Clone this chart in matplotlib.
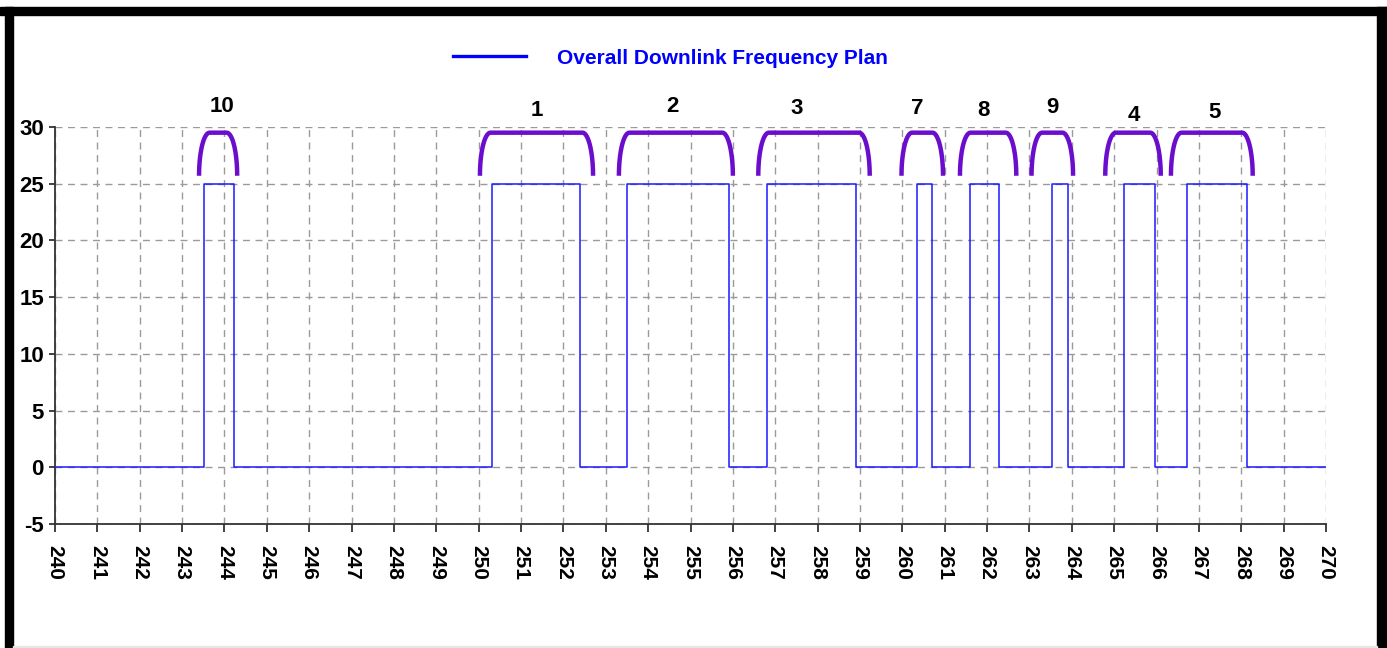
import numpy as np
import matplotlib
matplotlib.use('Agg')
import matplotlib.pyplot as plt
from matplotlib.lines import Line2D
from matplotlib.patches import Rectangle

plt.rcParams['font.family'] = ['Liberation Sans', 'DejaVu Sans']
plt.rcParams['font.weight'] = 'bold'

# channel numbers, occupied band edges (MHz) and level
chan_names = ['10', '1', '2', '3', '7', '8', '9', '4', '5']
chan_start = [243.52, 250.31, 253.50, 256.80, 260.34, 261.60, 263.53, 265.23, 266.72]
chan_stop = [244.22, 252.39, 255.91, 258.90, 260.70, 262.28, 263.91, 265.96, 268.13]
level = 25.0

# filter masks drawn above each channel
mask_start = [243.40, 250.03, 253.31, 256.60, 259.98, 261.36, 263.05, 264.79, 266.34]
mask_stop = [244.30, 252.70, 256.00, 259.23, 260.96, 262.69, 264.03, 266.10, 268.27]
mask_low, mask_top = 25.7, 29.5

# channel label positions
label_x = [243.94, 251.37, 254.58, 257.51, 260.36, 261.92, 263.55, 265.46, 267.37]
label_y = [31.83, 31.48, 31.83, 31.66, 31.66, 31.48, 31.75, 31.05, 31.30]

xticks = np.arange(240, 271, 1)
yticks = np.arange(-5, 31, 5)

# step trace of the overall plan
xs = [240.0]
ys = [0.0]
for s, e in zip(chan_start, chan_stop):
    xs += [s, s, e, e]
    ys += [0.0, level, level, 0.0]
xs.append(270.0)
ys.append(0.0)


def mask_curve(a, b, lo, hi, r=0.25):
    t = np.linspace(0, np.pi / 2, 30)
    lx = a + r - r * np.cos(t)
    ly = lo + (hi - lo) * np.sin(t)
    rx = b - r + r * np.cos(t[::-1])
    ry = lo + (hi - lo) * np.sin(t[::-1])
    return np.concatenate([lx, rx]), np.concatenate([ly, ry])


fig = plt.figure(figsize=(13.87, 6.48), dpi=100)
ax = fig.add_axes([55 / 1387, 1 - 524 / 648, 1271 / 1387, 397 / 648])

ax.plot(xs, ys, color='#1a1aff', lw=1.1, zorder=3)
for a, b in zip(mask_start, mask_stop):
    mx, my = mask_curve(a, b, mask_low, mask_top)
    ax.plot(mx, my, color='#6a0dcc', lw=3.2, solid_capstyle='butt', zorder=4)
for name, lx, ly in zip(chan_names, label_x, label_y):
    ax.text(lx, ly, name, ha='center', va='center', fontsize=16,
            fontweight='bold', color='black', clip_on=False)

ax.set_xlim(240, 270)
ax.set_ylim(-5, 30)
ax.set_xticks(xticks)
ax.set_yticks(yticks)
ax.set_xticklabels([str(v) for v in xticks], rotation=-90, fontsize=15, fontweight='bold')
ax.set_yticklabels([str(v) for v in yticks], fontsize=16, fontweight='bold')
ax.tick_params(axis='x', length=6, width=1.3, pad=9, color='#333333')
ax.tick_params(axis='y', length=4, width=1.3, pad=4, color='#333333')
ax.grid(True, color='#9a9a9a', ls=(0, (5, 4)), lw=1.0, zorder=1)
for sp in ['top', 'right']:
    ax.spines[sp].set_visible(False)
for sp in ['left', 'bottom']:
    ax.spines[sp].set_color('#333333')
    ax.spines[sp].set_linewidth(1.3)

handle = Line2D([], [], color='blue', lw=2.4)
fig.legend([handle], ['Overall Downlink Frequency Plan'], loc='center left',
           bbox_to_anchor=(453 / 1387, 1 - 58 / 648), frameon=False,
           borderpad=0, borderaxespad=0, handlelength=3.5, handletextpad=1.5,
           prop={'size': 15, 'weight': 'bold'}, labelcolor='blue')

# black frame around the figure
fig.patches.append(Rectangle((0, 1 - 15 / 648), 1, 8 / 648, transform=fig.transFigure,
                             color='black', zorder=10))
fig.patches.append(Rectangle((5 / 1387, 0), 8 / 1387, 1 - 7 / 648, transform=fig.transFigure,
                             color='black', zorder=10))
fig.patches.append(Rectangle((1377 / 1387, 0), 10 / 1387, 1 - 7 / 648, transform=fig.transFigure,
                             color='black', zorder=10))
fig.patches.append(Rectangle((13 / 1387, 0), 1364 / 1387, 2 / 648, transform=fig.transFigure,
                             color='#e6e6e6', zorder=10))

fig.savefig('out.png', dpi=100)
